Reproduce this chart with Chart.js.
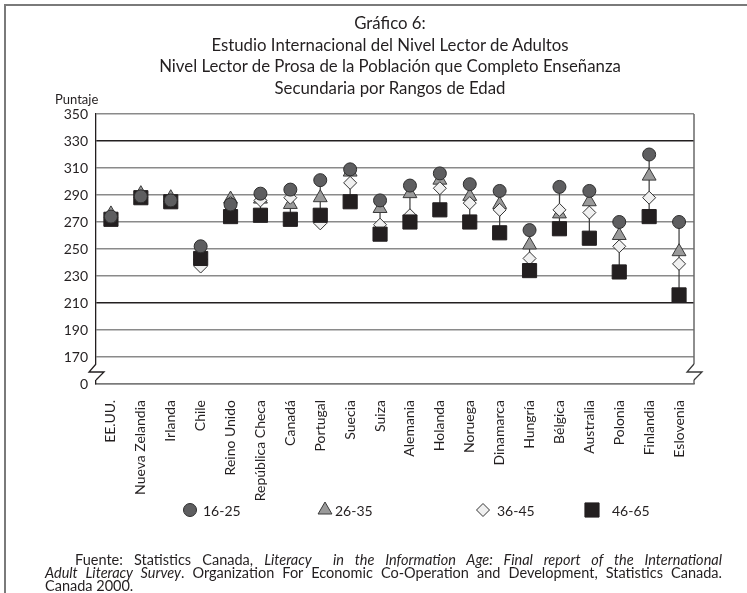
<!DOCTYPE html>
<html>
<head>
<meta charset="utf-8">
<script src="https://cdn.jsdelivr.net/npm/chart.js@4.4.1/dist/chart.umd.min.js"></script>
<style>
  html, body { margin: 0; padding: 0; background: #fff; }
  #wrap { position: relative; width: 747px; height: 593px; overflow: hidden; font-family: Lato, 'DejaVu Sans', sans-serif; color: #231f20; }
  #frame { position: absolute; left: 4px; top: 4px; width: 760px; height: 620px; border-top: 2px solid #7a7a7a; border-left: 2px solid #7a7a7a; }
  #title { position: absolute; left: 0; width: 780px; top: 12px; text-align: center; font-size: 16.8px; line-height: 21.6px; }
  #unit { position: absolute; left: 55px; top: 91px; font-size: 13px; }
  #source { position: absolute; left: 45px; width: 677px; top: 553px; font-size: 14.5px; line-height: 13px; }
  #source .j { text-align: justify; text-align-last: justify; }
  #source .first { padding-left: 30px; }
  canvas { position: absolute; left: 0; top: 0; }
</style>
</head>
<body>
<div id="wrap">
  <div id="frame"></div>
  <canvas id="chart" width="747" height="593"></canvas>
  <div id="title">Gráfico 6:<br>Estudio Internacional del Nivel Lector de Adultos<br>Nivel Lector de Prosa de la Población que Completo Enseñanza<br>Secundaria por Rangos de Edad</div>
  <div id="unit">Puntaje</div>
  <div id="source">
    <div class="j first">Fuente: Statistics Canada, <i>Literacy&nbsp; in the Information Age: Final report of the International</i></div>
    <div class="j"><i>Adult Literacy Survey</i>. Organization For Economic Co-Operation and Development, Statistics Canada.</div>
    <div>Canada 2000.</div>
  </div>
</div>
<script>
// countries along the x axis
const countries = ['EE.UU.', 'Nueva Zelandia', 'Irlanda', 'Chile', 'Reino Unido', 'República Checa',
  'Canadá', 'Portugal', 'Suecia', 'Suiza', 'Alemania', 'Holanda', 'Noruega', 'Dinamarca',
  'Hungría', 'Bélgica', 'Australia', 'Polonia', 'Finlandia', 'Eslovenia'];

// prose literacy scores by age group
const age16to25 = [274, 289, 286, 252, 283, 291, 294, 301, 309, 286, 297, 306, 298, 293, 264, 296, 293, 270, 320, 270];
const age26to35 = [276, 291, 288, 245, 287, 287, 283, 288, 307, 280, 291, 301, 289, 283, 253, 276, 285, 260, 304, 248];
const age36to45 = [273, 288, 285, 237, 284, 286, 288, 269, 299, 268, 275, 295, 284, 279, 243, 279, 277, 252, 288, 239];
const age46to65 = [272, 288, 285, 243, 274, 275, 272, 275, 285, 261, 270, 279, 270, 262, 234, 265, 258, 233, 274, 216];

const seriesNames = ['16-25', '26-35', '36-45', '46-65'];

// y axis is broken: the bottom tick stands for 0, the rest run 170..350
const yTicks = [150, 170, 190, 210, 230, 250, 270, 290, 310, 330, 350];
const yBreakValue = 150;

const ink = '#231f20';

// draws the min-max stem for every country, behind the markers
const stemPlugin = {
  id: 'stems',
  beforeDatasetsDraw(chart) {
    const { ctx, scales: { x, y } } = chart;
    ctx.save();
    ctx.strokeStyle = '#3a3a3a';
    ctx.lineWidth = 1.2;
    countries.forEach((c, i) => {
      const vals = chart.data.datasets.map(ds => ds.data[i]);
      const px = x.getPixelForValue(i);
      ctx.beginPath();
      ctx.moveTo(px, y.getPixelForValue(Math.max(...vals)));
      ctx.lineTo(px, y.getPixelForValue(Math.min(...vals)));
      ctx.stroke();
    });
    ctx.restore();
  }
};

// right border, axis break marks and the legend row
const decorPlugin = {
  id: 'decor',
  afterDraw(chart) {
    const { ctx, chartArea: a, scales: { y } } = chart;
    const y0 = y.getPixelForValue(170) + 7;
    const y1 = y.getPixelForValue(yBreakValue) - 4;
    ctx.save();
    // right frame of the plot
    ctx.strokeStyle = '#6a6a6a';
    ctx.lineWidth = 1.5;
    ctx.beginPath();
    ctx.moveTo(a.right, a.top);
    ctx.lineTo(a.right, y0);
    ctx.moveTo(a.right, y1);
    ctx.lineTo(a.right, a.bottom);
    ctx.stroke();

    // zigzag breaks on both sides
    [a.left, a.right].forEach((bx, k) => {
      ctx.fillStyle = '#fff';
      ctx.fillRect(bx - 2, y0, 4, y1 - y0);
      ctx.strokeStyle = k === 0 ? ink : '#3a3a3a';
      ctx.lineWidth = 1.3;
      ctx.beginPath();
      ctx.moveTo(bx, y0);
      ctx.lineTo(bx - 7, y0 + 8);
      ctx.lineTo(bx + 8, y0 + 8);
      ctx.lineTo(bx, y1);
      ctx.stroke();
    });

    // legend
    const legendX = [190, 325, 483, 592];
    const textX = [203, 335, 497, 612];
    const ly = 510;
    chart.data.datasets.forEach((ds, i) => {
      ctx.fillStyle = ds.pointBackgroundColor;
      ctx.strokeStyle = ds.pointBorderColor;
      ctx.lineWidth = 1;
      Chart.helpers.drawPoint(ctx, {
        pointStyle: ds.pointStyle,
        radius: ds.pointRadius,
        borderWidth: 1
      }, legendX[i], ly);
      ctx.fillStyle = ink;
      ctx.font = '14px Lato, sans-serif';
      ctx.textBaseline = 'middle';
      ctx.textAlign = 'left';
      ctx.fillText(seriesNames[i], textX[i], ly + 1);
    });
    ctx.restore();
  }
};

function series(label, data, style, radius, fill, border, order) {
  return {
    label: label,
    data: data,
    showLine: false,
    pointStyle: style,
    pointRadius: radius,
    pointHoverRadius: radius,
    pointBackgroundColor: fill,
    pointBorderColor: border,
    pointBorderWidth: 1,
    order: order
  };
}

new Chart(document.getElementById('chart'), {
  type: 'line',
  data: {
    labels: countries,
    datasets: [
      series(seriesNames[0], age16to25, 'circle', 6.5, '#5e5e60', '#2e2e2e', 0),
      series(seriesNames[1], age26to35, 'triangle', 8, '#9a9a9a', '#3a3a3a', 3),
      series(seriesNames[2], age36to45, 'rectRot', 6.5, '#f0f0f0', '#333333', 2),
      series(seriesNames[3], age46to65, 'rect', 10, ink, ink, 1)
    ]
  },
  options: {
    responsive: false,
    animation: false,
    devicePixelRatio: 1,
    layout: { padding: { left: 0, top: 114, right: 53, bottom: 0 } },
    scales: {
      x: {
        offset: true,
        afterFit(scale) { scale.height = 209; },
        grid: { display: false, drawTicks: false },
        border: { display: true, color: '#7a7a7a', width: 1.5 },
        ticks: {
          autoSkip: false,
          maxRotation: 90,
          minRotation: 90,
          padding: 16,
          color: ink,
          font: { family: 'Lato', size: 14 }
        }
      },
      y: {
        min: yBreakValue,
        max: 350,
        afterFit(scale) { scale.width = 96; },
        afterBuildTicks(scale) { scale.ticks = yTicks.map(v => ({ value: v })); },
        grid: {
          drawTicks: false,
          lineWidth: 1.5,
          color: ctx => (ctx.tick && (ctx.tick.value === 330 || ctx.tick.value === 210)) ? '#231f20' : '#8a8a8a'
        },
        border: { display: true, color: ink, width: 1.3 },
        ticks: {
          padding: 8,
          color: ink,
          font: { family: 'Lato', size: 14 },
          callback: v => (v === yBreakValue ? '0' : v)
        }
      }
    },
    plugins: {
      legend: { display: false },
      tooltip: { enabled: false }
    }
  },
  plugins: [stemPlugin, decorPlugin]
});
</script>
</body>
</html>
